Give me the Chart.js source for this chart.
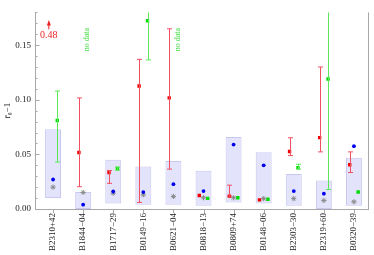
<!DOCTYPE html>
<html>
<head>
<meta charset="utf-8">
<script src="https://cdn.jsdelivr.net/npm/chart.js@4/dist/chart.umd.min.js"></script>
<style>
  html, body { margin: 0; padding: 0; background: #fff; }
  #wrap { width: 374px; height: 255px; }
</style>
</head>
<body>
<div id="wrap"><canvas id="myChart"></canvas></div>
<script>
// pulsars along the x axis
const pulsars = ['B2310+42', 'B1844\u221204', 'B1717\u221229', 'B0149\u221216', 'B0621\u221204',
  'B0818\u221213', 'B0809+74', 'B0148\u221206', 'B2303\u221230', 'B2319+60', 'B0320\u221239'];

// shaded range boxes
const boxLow  = [0.010, 0.000, 0.005, 0.004, 0.004, 0.003, 0.006, 0.005, 0.003, 0.000, 0.003];
const boxHigh = [0.073, 0.0155, 0.045, 0.039, 0.044, 0.035, 0.066, 0.052, 0.032, 0.026, 0.047];

// blue dots and grey stars
const blueVals = [0.027, 0.004, 0.016, 0.0155, 0.0227, 0.0164, 0.059, 0.040, 0.0164, 0.014, 0.0575];
const greyVals = [0.020, 0.0152, 0.0145, 0.013, 0.0115, 0.0103, 0.0103, 0.0095, 0.0095, 0.0078, 0.0066];

// red measurements with error bars (first one is off scale: 0.48)
const redVals  = [0.48, 0.0517, 0.0333, 0.1126, 0.1017, 0.0123, 0.0118, 0.0084, 0.0526, 0.0653, 0.0405];
const redLow   = [null, 0.0204, 0.0235, 0.006, 0.0365, null, 0.0118, null, 0.0489, 0.0523, 0.0334];
const redHigh  = [null, 0.1017, 0.0352, 0.137, 0.165, null, 0.0218, null, 0.0652, 0.130, 0.0523];

// green measurements with error bars (null = no data)
const greenVals = [0.081, null, 0.037, 0.1724, null, 0.0097, 0.0103, 0.0089, 0.0379, 0.119, 0.0155];
const greenLow  = [0.043, null, 0.0355, 0.1365, null, null, null, null, 0.0365, 0.0178, null];
const greenHigh = [0.108, null, 0.0385, 0.30, null, null, null, null, 0.041, 0.30, null];

const yMax = 0.18;
const shift = 0.14; // red left, green right of the centre

function pts(vals, dx) {
  const out = [];
  vals.forEach((v, i) => { if (v !== null) out.push({x: i + dx, y: v}); });
  return out;
}

const serif = 'Liberation Serif';

// error bars, frame, ticks, arrows and notes
const extras = {
  id: 'extras',
  afterDatasetsDraw(chart) {
    const ctx = chart.ctx;
    const xs = chart.scales.x, ys = chart.scales.y;
    const area = chart.chartArea;
    ctx.save();
    ctx.beginPath();
    ctx.rect(area.left - 4, area.top, area.right - area.left + 4, area.bottom - area.top);
    ctx.clip();
    function bars(vals, lo, hi, dx, color) {
      ctx.strokeStyle = color;
      ctx.lineWidth = 1;
      vals.forEach((v, i) => {
        if (v === null || lo[i] === null) return;
        const x = Math.round(xs.getPixelForValue(i + dx)) + 0.5;
        const y1 = ys.getPixelForValue(lo[i]), y2 = ys.getPixelForValue(hi[i]);
        ctx.beginPath();
        ctx.moveTo(x, y1); ctx.lineTo(x, y2);
        ctx.moveTo(x - 2.5, y1); ctx.lineTo(x + 2.5, y1);
        ctx.moveTo(x - 2.5, y2); ctx.lineTo(x + 2.5, y2);
        ctx.stroke();
      });
    }
    bars(redVals, redLow, redHigh, -shift, '#f05060');
    bars(greenVals, greenLow, greenHigh, shift, '#5ae85a');
    ctx.restore();

    ctx.save();
    // off-scale arrows
    redVals.forEach((v, i) => {
      if (v <= yMax) return;
      const x = xs.getPixelForValue(i - shift);
      ctx.strokeStyle = '#ee2222';
      ctx.fillStyle = '#ee2222';
      ctx.lineWidth = 1;
      ctx.beginPath();
      ctx.moveTo(x, area.top + 17); ctx.lineTo(x, area.top + 12);
      ctx.stroke();
      ctx.beginPath();
      ctx.moveTo(x, area.top + 7.5);
      ctx.lineTo(x - 2, area.top + 13);
      ctx.lineTo(x + 2, area.top + 13);
      ctx.closePath();
      ctx.fill();
      ctx.font = '10px "' + serif + '"';
      ctx.textAlign = 'center';
      ctx.textBaseline = 'middle';
      ctx.fillText(v.toFixed(2), x, area.top + 23);
    });
    // no data notes
    greenVals.forEach((v, i) => {
      if (v !== null) return;
      const x = xs.getPixelForValue(i + shift);
      const y = ys.getPixelForValue(0.155);
      ctx.save();
      ctx.translate(x, y);
      ctx.rotate(-Math.PI / 2);
      ctx.fillStyle = '#44dd44';
      ctx.font = '8px "' + serif + '"';
      ctx.textAlign = 'center';
      ctx.textBaseline = 'middle';
      ctx.fillText('no data', 0, 0);
      ctx.restore();
    });

    // frame
    const fx = area.left - 3;
    ctx.strokeStyle = '#a8a8a8';
    ctx.lineWidth = 1;
    ctx.beginPath();
    ctx.moveTo(fx + 0.5, area.top); ctx.lineTo(fx + 0.5, area.bottom + 0.5);
    ctx.lineTo(area.right, area.bottom + 0.5);
    ctx.moveTo(area.right - 0.5, area.top); ctx.lineTo(area.right - 0.5, area.bottom + 0.5);
    ctx.stroke();
    // y ticks
    ys.ticks.forEach(t => {
      const y = Math.round(ys.getPixelForValue(t.value)) + 0.5;
      const major = Math.round(t.value * 100) % 5 === 0;
      ctx.beginPath();
      ctx.moveTo(fx, y); ctx.lineTo(fx + (major ? 4.5 : 2.5), y);
      ctx.stroke();
    });
    // x ticks
    xs.ticks.forEach(t => {
      const x = Math.round(xs.getPixelForValue(t.value)) + 0.5;
      ctx.beginPath();
      ctx.moveTo(x, area.bottom + 0.5); ctx.lineTo(x, area.bottom + 4);
      ctx.stroke();
    });
    ctx.restore();
  }
};

const data = {
  datasets: [
    {
      type: 'bar',
      data: boxLow.map((v, i) => ({x: i, y: [v, boxHigh[i]]})),
      backgroundColor: 'rgba(222,222,250,0.85)',
      borderColor: 'rgba(200,200,240,1)',
      borderWidth: 1,
      borderSkipped: false,
      barPercentage: 0.53,
      categoryPercentage: 1,
      order: 5
    },
    {
      type: 'scatter',
      data: pts(greyVals, 0),
      pointStyle: 'star',
      pointRadius: 2.6,
      borderColor: '#8a8a8a',
      backgroundColor: '#8a8a8a',
      pointBorderWidth: 1,
      order: 4
    },
    {
      type: 'scatter',
      data: pts(blueVals, 0),
      pointStyle: 'circle',
      pointRadius: 1.9,
      borderWidth: 0,
      backgroundColor: '#0000ee',
      order: 3
    },
    {
      type: 'scatter',
      data: pts(redVals, -shift),
      pointStyle: 'rect',
      pointRadius: 2.4,
      borderWidth: 0,
      backgroundColor: '#ee0000',
      order: 2
    },
    {
      type: 'scatter',
      data: pts(greenVals, shift),
      pointStyle: 'rect',
      pointRadius: 2.4,
      borderWidth: 0,
      backgroundColor: '#00dd00',
      order: 1
    }
  ]
};

const config = {
  type: 'scatter',
  data,
  options: {
    responsive: true,
    maintainAspectRatio: false,
    animation: false,
    layout: { padding: { top: 0, right: 1, left: 0, bottom: 0 } },
    plugins: { legend: { display: false }, tooltip: { enabled: false } },
    scales: {
      x: {
        type: 'linear',
        offset: false,
        bounds: 'data',
        min: -0.5,
        max: pulsars.length - 0.5,
        grid: { display: false, drawTicks: false, offset: false },
        border: { display: false },
        afterBuildTicks(scale) {
          scale.ticks = pulsars.map((p, i) => ({value: i}));
        },
        ticks: {
          color: '#222',
          font: { family: serif, size: 9 },
          minRotation: 90,
          maxRotation: 90,
          autoSkip: false,
          padding: 4,
          callback: v => pulsars[Math.round(v)]
        },
        afterFit(scale) { scale.height = 46; }
      },
      y: {
        type: 'linear',
        min: 0,
        max: yMax,
        grid: { display: false, drawTicks: false },
        border: { display: false },
        ticks: {
          stepSize: 0.01,
          autoSkip: false,
          color: '#222',
          font: { family: serif, size: 9 },
          padding: 7,
          callback: v => (Math.round(v * 100) % 5 === 0 ? v.toFixed(2) : '')
        },
        title: {
          display: true,
          text: 'r\u0304\u2080\u22121',
          color: '#222',
          font: { family: serif, size: 9 },
          padding: { top: 2, bottom: 0 }
        },
        afterFit(scale) { scale.width = 38; }
      }
    }
  },
  plugins: [extras]
};

const myChart = new Chart(document.getElementById('myChart'), config);
</script>
</body>
</html>
